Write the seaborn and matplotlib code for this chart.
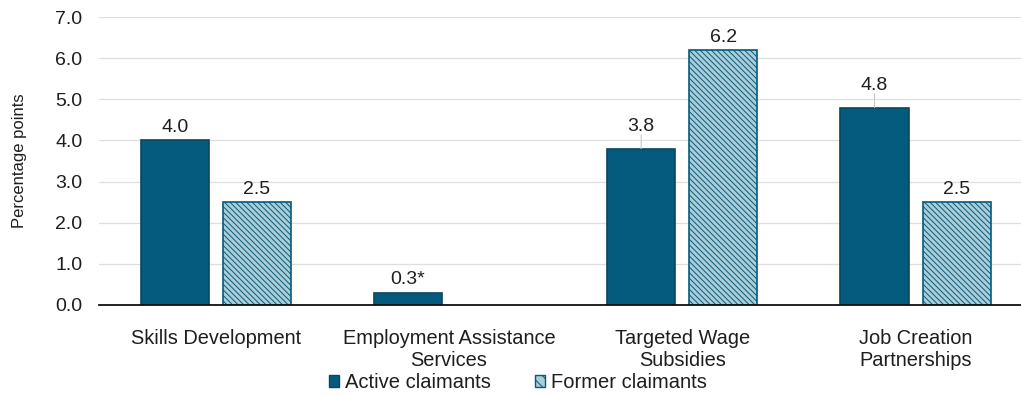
import numpy as np
import pandas as pd
import matplotlib
matplotlib.use("Agg")
import matplotlib.pyplot as plt
from matplotlib.patches import Patch
import seaborn as sns

# Incremental impacts by program type (percentage points)
programs = ["Skills Development", "Employment Assistance\nServices",
            "Targeted Wage\nSubsidies", "Job Creation\nPartnerships"]
active = [4.0, 0.3, 3.8, 4.8]
former = [2.5, np.nan, 6.2, 2.5]
active_flags = ["", "*", "", ""]
former_flags = ["", "", "", ""]
groups = ["Active claimants", "Former claimants"]
y_ticks = [0.0, 1.0, 2.0, 3.0, 4.0, 5.0, 6.0, 7.0]

df = pd.DataFrame({
    "program": programs * 2,
    "group": [groups[0]] * len(programs) + [groups[1]] * len(programs),
    "value": active + former,
})

sns.set_theme(style="white")
plt.rcParams["font.family"] = ["Liberation Sans", "DejaVu Sans"]
plt.rcParams["hatch.linewidth"] = 0.7

dark = "#045b7d"
light = "#abcdd8"
edge_active = "#0a4660"
hatch_pat = "\\\\\\\\\\\\"
txt = "#1e1e1e"

fig, ax = plt.subplots(figsize=(10.21, 3.96), dpi=100)
fig.subplots_adjust(left=0.097, right=1.011, top=0.957, bottom=0.23)

sns.barplot(data=df, x="program", y="value", hue="group", order=programs,
            hue_order=groups, palette=[dark, light], saturation=1,
            width=0.704, gap=0.17, dodge=True, ax=ax, legend=False)

# Labels that sit higher with a short leader line (crowded spots)
raised = {(0, 2), (0, 3)}

series = [(active, active_flags, edge_active, None),
          (former, former_flags, dark, hatch_pat)]
for k, (cont, (vals, flags, edge, hatch)) in enumerate(zip(ax.containers, series)):
    for p in cont.patches:
        if p is None:
            continue
        p.set_edgecolor(edge)
        p.set_linewidth(1.2)
        if hatch:
            p.set_hatch(hatch)
        xc = p.get_x() + p.get_width() / 2
        i = int(round(xc))
        v = vals[i]
        if np.isnan(v):
            continue
        off = 10 if (k, i) in raised else 3
        if (k, i) in raised:
            ax.annotate("", (xc, p.get_height()), xytext=(0, off),
                        textcoords="offset points",
                        arrowprops=dict(arrowstyle="-", color="#c8c8c8", lw=0.8,
                                        shrinkA=0, shrinkB=0))
        ax.annotate(f"{v:.1f}{flags[i]}", (xc, p.get_height()),
                    xytext=(0, off), textcoords="offset points",
                    ha="center", va="bottom", fontsize=14, color=txt)

ax.set_ylim(0, 7.0)
ax.set_yticks(y_ticks)
ax.set_yticklabels([f"{t:.1f}" for t in y_ticks], fontsize=14, color=txt)
ax.set_xlabel("")
ax.set_ylabel("Percentage points", fontsize=12, color=txt, labelpad=20)
ax.tick_params(axis="x", labelsize=14.4, colors=txt, length=0, pad=17)
ax.tick_params(axis="y", length=0, pad=12)
ax.yaxis.grid(True, color="#dedede", linewidth=0.9)
ax.set_axisbelow(True)
for s in ["top", "right", "left"]:
    ax.spines[s].set_visible(False)
ax.spines["bottom"].set_color("#111111")
ax.spines["bottom"].set_linewidth(1.3)
ax.set_xlim(-0.5, 3.5)

handles = [Patch(facecolor=dark, edgecolor=edge_active, linewidth=1.0),
           Patch(facecolor=light, edgecolor=dark, linewidth=1.0, hatch="\\\\\\")]
fig.legend(handles, groups, loc="center", bbox_to_anchor=(0.507, 0.034),
           ncol=2, frameon=False, fontsize=14.5, handlelength=0.5,
           handleheight=0.5, handletextpad=0.3, columnspacing=2.2,
           labelcolor=txt)

fig.savefig("out.png", dpi=100)
